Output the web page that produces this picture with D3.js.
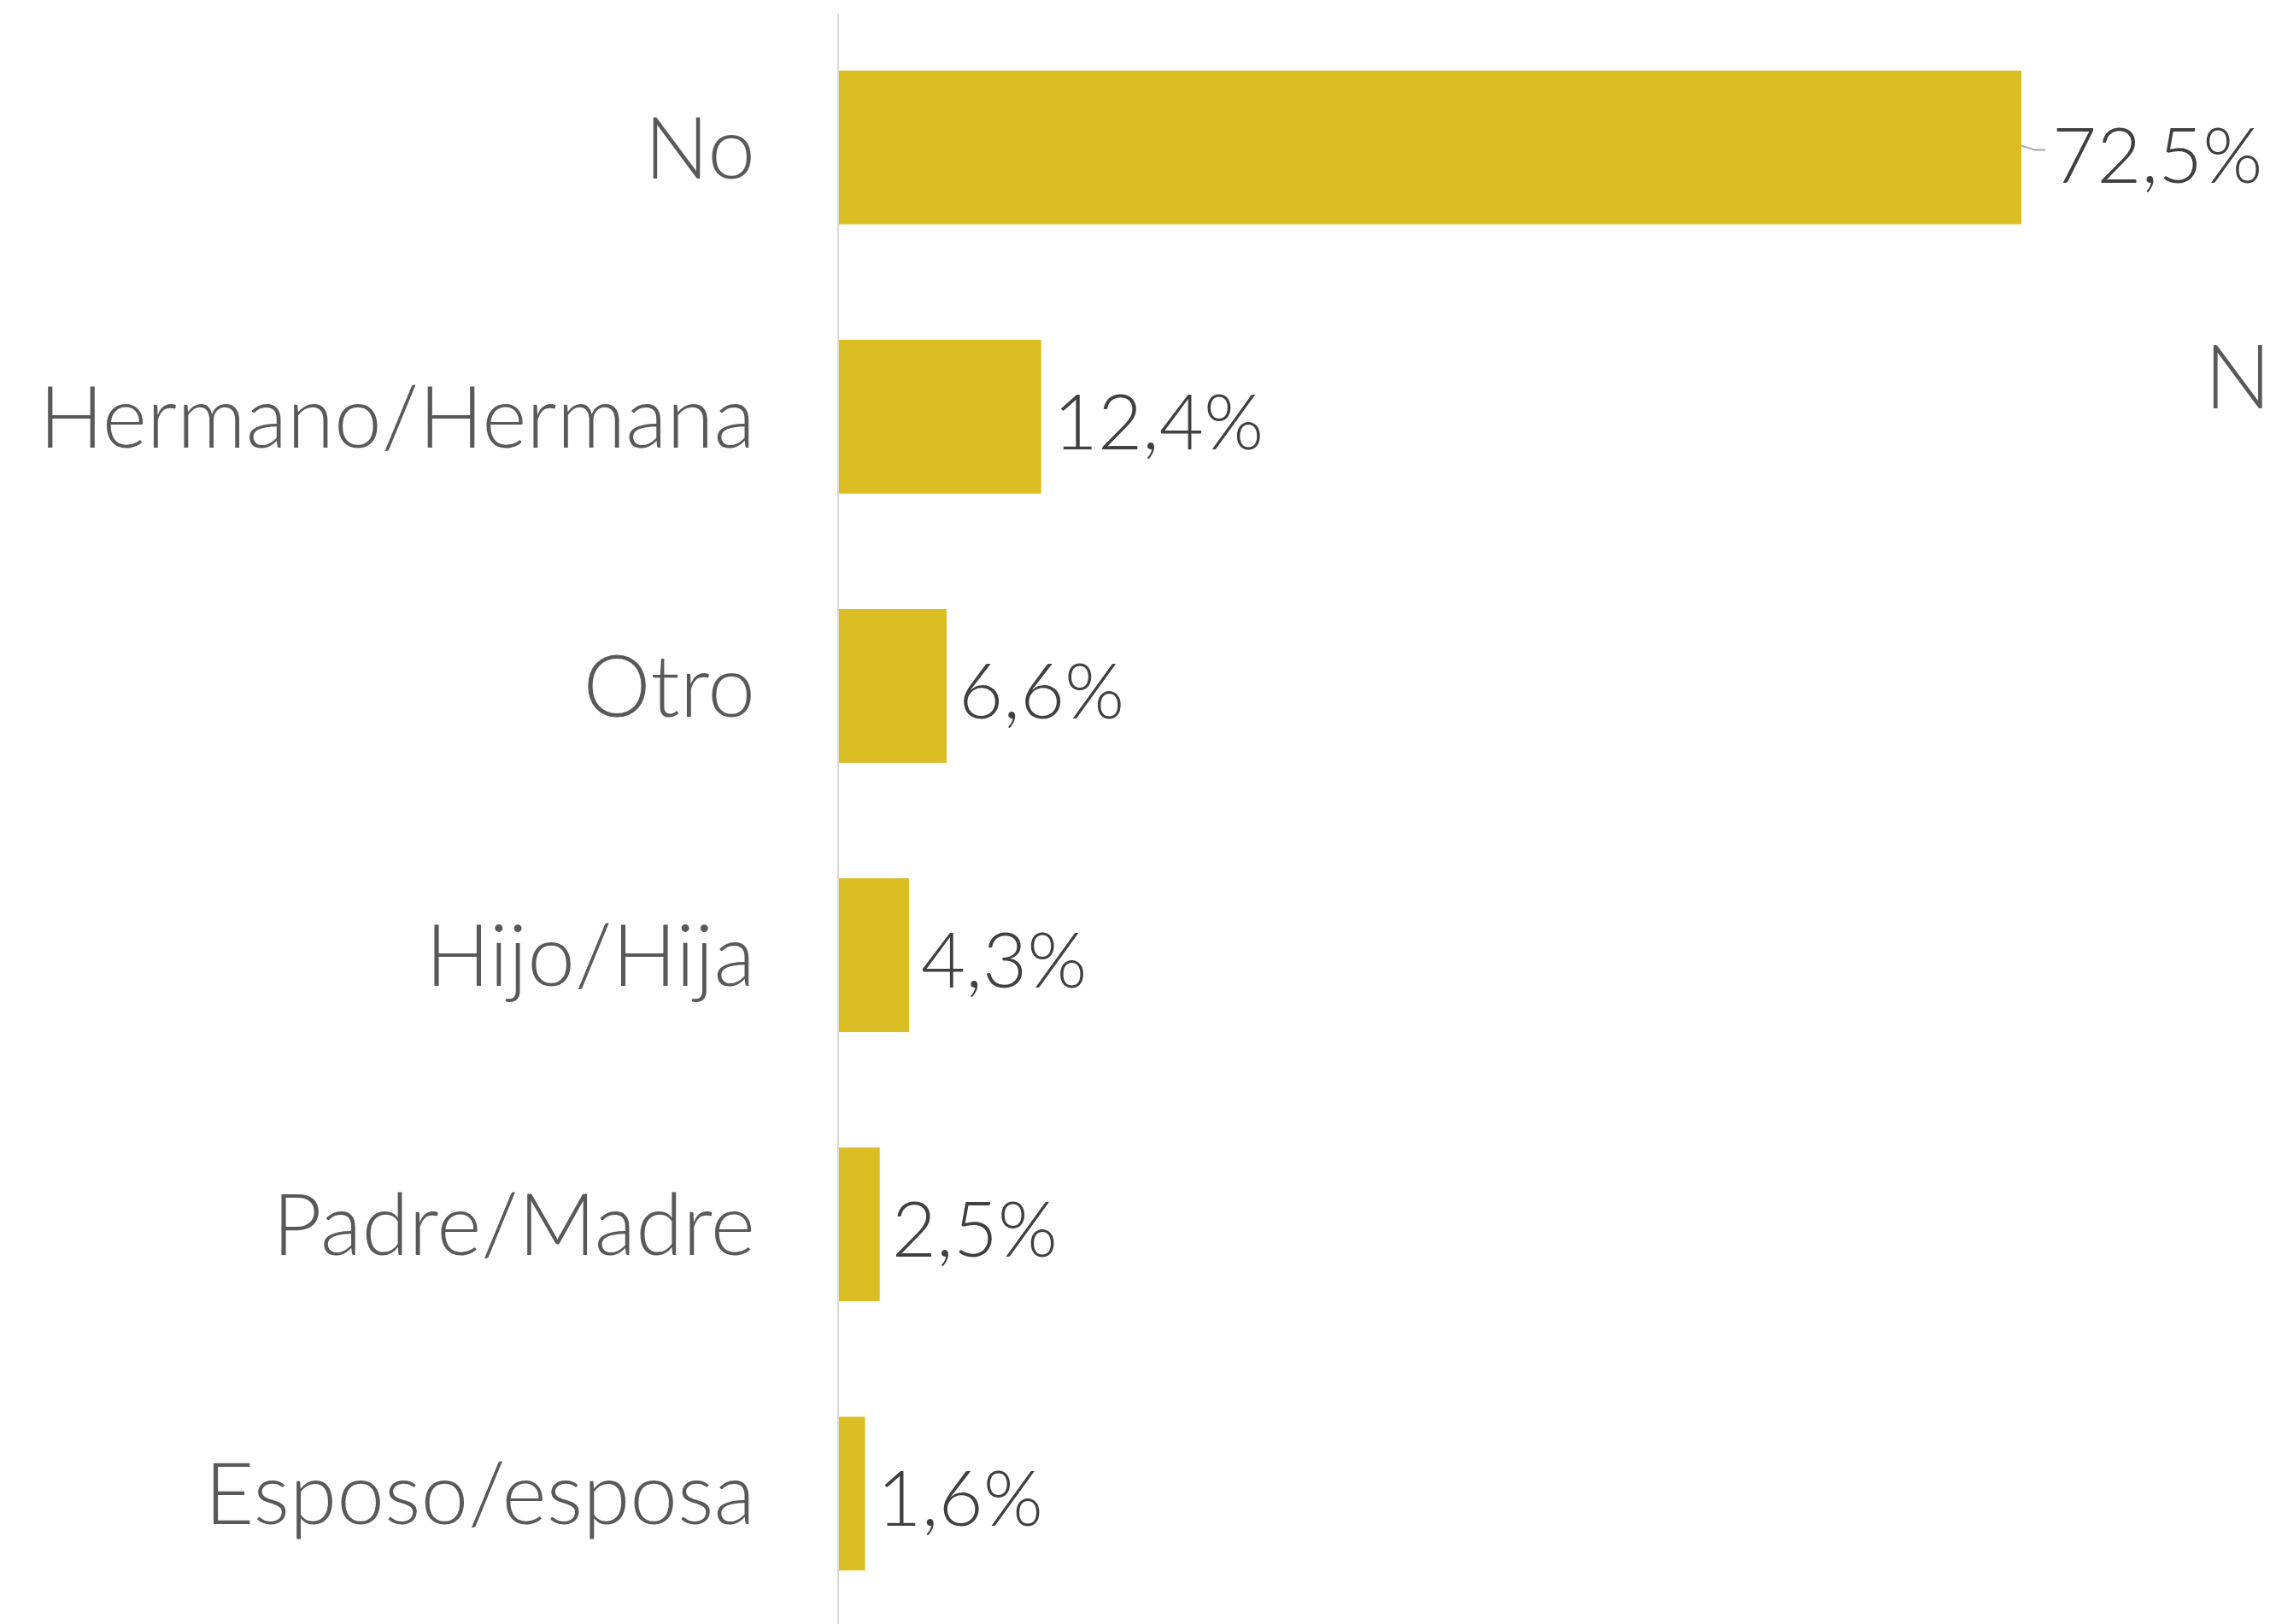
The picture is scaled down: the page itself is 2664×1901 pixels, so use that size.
<!DOCTYPE html>
<html>
<head>
<meta charset="utf-8">
<script src="https://cdn.jsdelivr.net/npm/d3@7"></script>
<style>
  body { margin: 0; background: #fff; overflow: hidden; }
  .cat { font-family: Lato, "Open Sans", sans-serif; font-weight: 300; fill: #595959; }
  .val { font-family: Lato, "Open Sans", sans-serif; font-weight: 300; fill: #404040; }
</style>
</head>
<body>
<script>
"use strict";

var width = 2664;
var height = 1901;

// datos
var categorias = ["No", "Hermano/Hermana", "Otro", "Hijo/Hija", "Padre/Madre", "Esposo/esposa"];
var valores = [72.5, 12.4, 6.6, 4.3, 2.5, 1.6];
var etiquetas = ["72,5%", "12,4%", "6,6%", "4,3%", "2,5%", "1,6%"];

var svg = d3.select("body")
  .append("svg")
  .attr("width", width)
  .attr("height", height);

var x = d3.scaleLinear()
  .domain([0, 72.5])
  .range([982, 2366]);

var y = d3.scaleBand()
  .domain(categorias)
  .range([15, 1906])
  .paddingInner(0.429)
  .paddingOuter(0.2145);

// eje vertical
svg.append("line")
  .attr("x1", 981)
  .attr("x2", 981)
  .attr("y1", 16)
  .attr("y2", height)
  .attr("stroke", "#d9d9d9")
  .attr("stroke-width", 2);

// barras
for (var i = 0; i < categorias.length; i++) {
  svg.append("rect")
    .attr("x", x(0))
    .attr("y", y(categorias[i]))
    .attr("width", x(valores[i]) - x(0))
    .attr("height", y.bandwidth())
    .attr("fill", "#dbbd24");
}

// etiquetas de categoria
for (var i = 0; i < categorias.length; i++) {
  svg.append("text")
    .attr("class", "cat")
    .attr("x", 884)
    .attr("y", y(categorias[i]) + y.bandwidth() / 2)
    .attr("dy", "0.36em")
    .attr("text-anchor", "end")
    .attr("font-size", 100)
    .text(categorias[i]);
}

// etiquetas de valor
for (var i = 0; i < categorias.length; i++) {
  var cy = y(categorias[i]) + y.bandwidth() / 2;
  var lx = x(valores[i]) + 14;
  if (i == 0) {
    // linea guia para la primera barra
    svg.append("polyline")
      .attr("points", [[x(valores[i]), cy - 2], [x(valores[i]) + 16, cy + 3], [x(valores[i]) + 28, cy + 3]].join(" "))
      .attr("fill", "none")
      .attr("stroke", "#a6a6a6")
      .attr("stroke-width", 2);
    lx = x(valores[i]) + 36;
    cy = cy + 4;
  }
  svg.append("text")
    .attr("class", "val")
    .attr("x", lx)
    .attr("y", cy)
    .attr("dy", "0.42em")
    .attr("font-size", 90)
    .text(etiquetas[i]);
}

// texto parcial a la derecha
svg.append("text")
  .attr("class", "cat")
  .attr("x", 2580)
  .attr("y", 478)
  .attr("font-size", 104)
  .text("N");
</script>
</body>
</html>
